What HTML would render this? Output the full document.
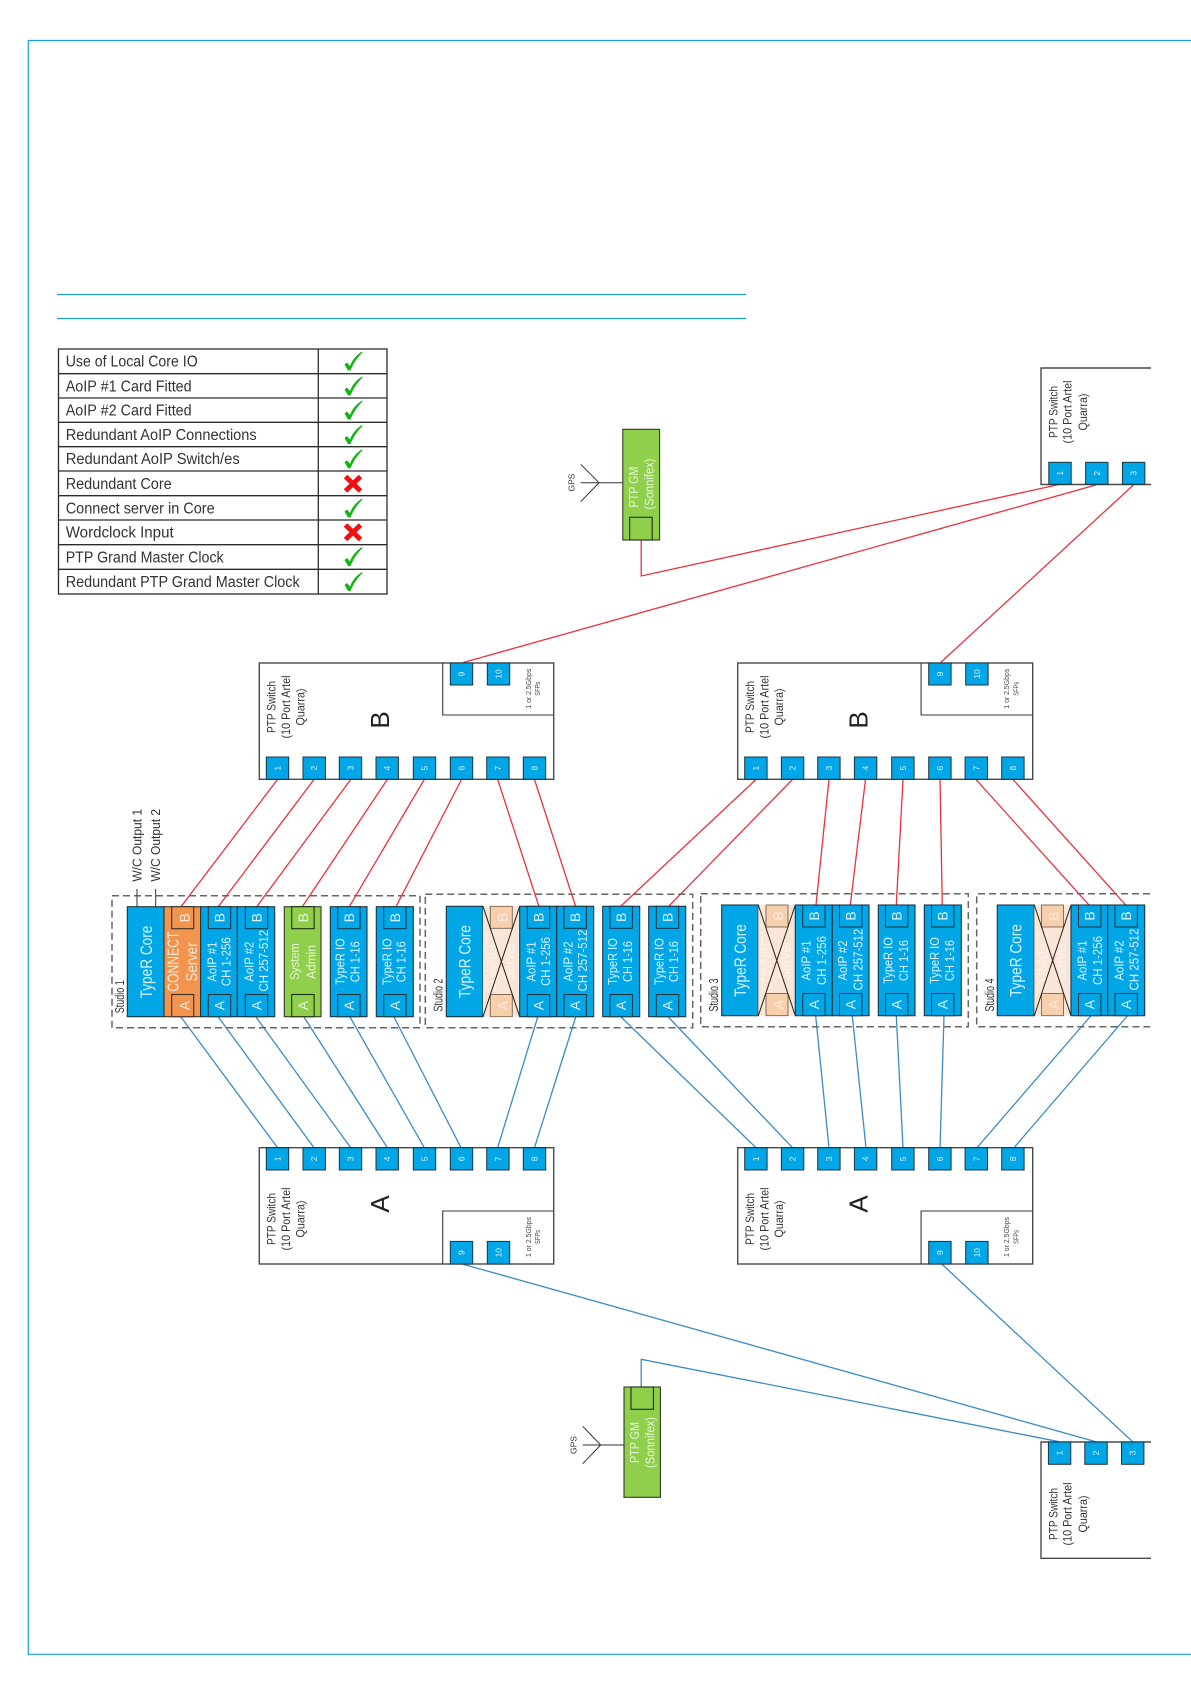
<!DOCTYPE html>
<html lang="en">
<head>
<meta charset="utf-8">
<title>PTP network diagram</title>
<style>
html,body{margin:0;padding:0;background:#fff;width:1191px;height:1684px;overflow:hidden}
svg{display:block;font-family:"Liberation Sans",sans-serif}
text{dominant-baseline:central;text-anchor:middle}
.fr{stroke:#1a9ed4;stroke-width:1.2;fill:none}
.r{stroke:#e9323e;stroke-width:1.3;fill:none}
.b{stroke:#3b8cc6;stroke-width:1.3;fill:none}
.sw{fill:#fff;stroke:#4a4a4a;stroke-width:1.4}
.in{fill:none;stroke:#3a3a3a;stroke-width:1.1}
.p{fill:#00a6e6;stroke:#1c3440;stroke-width:1}
.c{fill:#00a6e6;stroke:#1c3440;stroke-width:1.1}
.o{fill:#f0944e;stroke:#3a3026;stroke-width:1.1}
.g{fill:#8fcf4c;stroke:#2d3d1f;stroke-width:1.1}
.gp{fill:#8fcf4c;stroke:#1f2d14;stroke-width:1.1}
.f{fill:#f9e6d8;stroke:none}
.fp{fill:#f6cfad;stroke:#7a6350;stroke-width:.9}
.x{stroke:#2a1d14;stroke-width:1;fill:none}
.d{fill:none;stroke:#666;stroke-width:1.5;stroke-dasharray:7 4}
.w{fill:#d8f3fd}
.wg{fill:#e8f6d8}
.wo{fill:#fde8d6}
.fa{fill:#fff;opacity:.55}
.t{fill:#333}
.sf{fill:#444;font-size:7px}
.n{fill:#d8f3fd;font-size:8.5px}
.l{fill:#222;font-size:26px}
.pl{fill:#d8f3fd;font-size:14px}
.tb{fill:#333;font-size:15.5px;dominant-baseline:auto;text-anchor:start}
.tl{stroke:#2c2c2c;stroke-width:1.3;fill:none}
.ck{fill:#14b414}
.xx{stroke:#f01010;stroke-width:5;fill:none}
</style>
</head>
<body>
<svg width="1191" height="1684" viewBox="0 0 1191 1684" xmlns="http://www.w3.org/2000/svg">
<rect width="1191" height="1684" fill="#fff"/>
<path class="fr" d="M1191,40.5H28.3V1654.3H1191"/>
<path class="fr" d="M57,294.5H746M57,318.5H746"/>

<!-- table -->
<rect x="58.5" y="349" width="328.5" height="245" class="tl"/>
<path class="tl" d="M318.3,349V594M58.5,373.7H387M58.5,398H387M58.5,422.3H387M58.5,446.7H387M58.5,471H387M58.5,495.7H387M58.5,520H387M58.5,544.7H387M58.5,569.3H387"/>
<text class="tb" x="65.7" y="366.7" textLength="132" lengthAdjust="spacingAndGlyphs">Use of Local Core IO</text>
<text class="tb" x="65.7" y="391.3" textLength="126" lengthAdjust="spacingAndGlyphs">AoIP #1 Card Fitted</text>
<text class="tb" x="65.7" y="415.7" textLength="126" lengthAdjust="spacingAndGlyphs">AoIP #2 Card Fitted</text>
<text class="tb" x="65.7" y="440" textLength="191" lengthAdjust="spacingAndGlyphs">Redundant AoIP Connections</text>
<text class="tb" x="65.7" y="464" textLength="174" lengthAdjust="spacingAndGlyphs">Redundant AoIP Switch/es</text>
<text class="tb" x="65.7" y="489" textLength="106" lengthAdjust="spacingAndGlyphs">Redundant Core</text>
<text class="tb" x="65.7" y="513.3" textLength="149" lengthAdjust="spacingAndGlyphs">Connect server in Core</text>
<text class="tb" x="65.7" y="537.7" textLength="108" lengthAdjust="spacingAndGlyphs">Wordclock Input</text>
<text class="tb" x="65.7" y="562.3" textLength="158" lengthAdjust="spacingAndGlyphs">PTP Grand Master Clock</text>
<text class="tb" x="65.7" y="587" textLength="234" lengthAdjust="spacingAndGlyphs">Redundant PTP Grand Master Clock</text>
<path class="ck" transform="translate(353,361)" d="M-8.5,3.5L-6,1.5L-3,5C-1,-1 3,-5.5 9,-9.5L9.5,-8.5C4,-3 0,3 -2.5,9.5L-5,9.5Z"/>
<path class="ck" transform="translate(353,386)" d="M-8.5,3.5L-6,1.5L-3,5C-1,-1 3,-5.5 9,-9.5L9.5,-8.5C4,-3 0,3 -2.5,9.5L-5,9.5Z"/>
<path class="ck" transform="translate(353,410)" d="M-8.5,3.5L-6,1.5L-3,5C-1,-1 3,-5.5 9,-9.5L9.5,-8.5C4,-3 0,3 -2.5,9.5L-5,9.5Z"/>
<path class="ck" transform="translate(353,434.5)" d="M-8.5,3.5L-6,1.5L-3,5C-1,-1 3,-5.5 9,-9.5L9.5,-8.5C4,-3 0,3 -2.5,9.5L-5,9.5Z"/>
<path class="ck" transform="translate(353,458.7)" d="M-8.5,3.5L-6,1.5L-3,5C-1,-1 3,-5.5 9,-9.5L9.5,-8.5C4,-3 0,3 -2.5,9.5L-5,9.5Z"/>
<path class="ck" transform="translate(353,508)" d="M-8.5,3.5L-6,1.5L-3,5C-1,-1 3,-5.5 9,-9.5L9.5,-8.5C4,-3 0,3 -2.5,9.5L-5,9.5Z"/>
<path class="ck" transform="translate(353,556.5)" d="M-8.5,3.5L-6,1.5L-3,5C-1,-1 3,-5.5 9,-9.5L9.5,-8.5C4,-3 0,3 -2.5,9.5L-5,9.5Z"/>
<path class="ck" transform="translate(353,581.5)" d="M-8.5,3.5L-6,1.5L-3,5C-1,-1 3,-5.5 9,-9.5L9.5,-8.5C4,-3 0,3 -2.5,9.5L-5,9.5Z"/>
<path class="xx" d="M345.5,476.5L360.5,491M360.5,476.5L345.5,491"/>
<path class="xx" d="M345.5,525L360.5,539.5M360.5,525L345.5,539.5"/>

<!-- red connectors -->
<path class="r" d="M641.2,540V576L1059,484.5"/>
<path class="r" d="M463.3,662.5L1095.8,485M940.7,662.5L1133.4,485"/>
<path class="r" d="M277.5,779.5L181,906.7M314,779.5L218.3,906.7M350.7,779.5L256.7,906.7M387.3,779.5L302.3,906.7M424.3,779.5L349.3,906.7M461.5,779.5L396,906.7M497.7,779.5L539,906.7M534.5,779.5L575.7,906.7"/>
<path class="r" d="M756,779.5L621,906M792.5,779.5L669,906M829,779.5L816,905M865.5,779.5L850.3,905M903,779.5L896.3,905M940,779.5L942.3,905M976,779.5L1089,905M1013,779.5L1125.7,905"/>
<!-- blue connectors -->
<path class="b" d="M181,1017L277.5,1147.7M218.3,1017L314,1147.7M256,1017L350.7,1147.7M304,1017L387.3,1147.7M350,1017L424.3,1147.7M394,1017L461,1147.7M537.7,1017L497.7,1147.7M575.7,1017L534.5,1147.7"/>
<path class="b" d="M621,1017L756,1147.7M668.3,1017L792.5,1147.7M815.7,1016L829,1147.7M852.3,1016L866,1147.7M896.3,1016L903,1147.7M944,1016L940,1147.7M1090.7,1016L977,1147.7M1127.3,1016L1014,1147.7"/>
<path class="b" d="M462.3,1264L1095.8,1441.7M941.7,1264L1132.6,1441.7"/>
<path class="b" d="M641.2,1387V1359.3L1059,1441.7"/>

<!-- Switch B left -->
<g transform="translate(259.3,663)">
<rect class="sw" width="294.4" height="116.3"/>
<path class="in" d="M183.4,0V52H294.4"/>
<rect class="p" x="7" y="94" width="22.4" height="22.3"/><text class="n" transform="translate(18.2,105.2) rotate(-90)">1</text>
<rect class="p" x="43.7" y="94" width="22.4" height="22.3"/><text class="n" transform="translate(54.9,105.2) rotate(-90)">2</text>
<rect class="p" x="80" y="94" width="22.4" height="22.3"/><text class="n" transform="translate(91.2,105.2) rotate(-90)">3</text>
<rect class="p" x="116.7" y="94" width="22.4" height="22.3"/><text class="n" transform="translate(127.9,105.2) rotate(-90)">4</text>
<rect class="p" x="154" y="94" width="22.4" height="22.3"/><text class="n" transform="translate(165.2,105.2) rotate(-90)">5</text>
<rect class="p" x="191" y="94" width="22.4" height="22.3"/><text class="n" transform="translate(202.2,105.2) rotate(-90)">6</text>
<rect class="p" x="227.4" y="94" width="22.4" height="22.3"/><text class="n" transform="translate(238.6,105.2) rotate(-90)">7</text>
<rect class="p" x="264" y="94" width="22.4" height="22.3"/><text class="n" transform="translate(275.2,105.2) rotate(-90)">8</text>
<rect class="p" x="191" y="0" width="22.4" height="22"/><text class="n" transform="translate(202.2,11) rotate(-90)">9</text>
<rect class="p" x="228" y="0" width="22.4" height="22"/><text class="n" transform="translate(239.2,11) rotate(-90)">10</text>
<text class="t" font-size="12" transform="translate(12.4,44) rotate(-90)" textLength="52" lengthAdjust="spacingAndGlyphs">PTP Switch</text>
<text class="t" font-size="12" transform="translate(26.7,44) rotate(-90)" textLength="63" lengthAdjust="spacingAndGlyphs">(10 Port Artel</text>
<text class="t" font-size="12" transform="translate(41.4,44) rotate(-90)" textLength="37" lengthAdjust="spacingAndGlyphs">Quarra)</text>
<text class="l" transform="translate(120.7,57) rotate(-90)">B</text>
<text class="sf" transform="translate(270,25.7) rotate(-90)" textLength="40" lengthAdjust="spacingAndGlyphs">1 or 2.5Gbps</text>
<text class="sf" transform="translate(279.4,25.7) rotate(-90)" textLength="14" lengthAdjust="spacingAndGlyphs">SFPs</text>
</g>
<!-- Switch B right -->
<g transform="translate(737.7,663)">
<rect class="sw" width="295" height="116.3"/>
<path class="in" d="M183.4,0V52H295"/>
<rect class="p" x="7" y="94" width="22.4" height="22.3"/><text class="n" transform="translate(18.2,105.2) rotate(-90)">1</text>
<rect class="p" x="43.7" y="94" width="22.4" height="22.3"/><text class="n" transform="translate(54.9,105.2) rotate(-90)">2</text>
<rect class="p" x="80" y="94" width="22.4" height="22.3"/><text class="n" transform="translate(91.2,105.2) rotate(-90)">3</text>
<rect class="p" x="116.7" y="94" width="22.4" height="22.3"/><text class="n" transform="translate(127.9,105.2) rotate(-90)">4</text>
<rect class="p" x="154" y="94" width="22.4" height="22.3"/><text class="n" transform="translate(165.2,105.2) rotate(-90)">5</text>
<rect class="p" x="191" y="94" width="22.4" height="22.3"/><text class="n" transform="translate(202.2,105.2) rotate(-90)">6</text>
<rect class="p" x="227.4" y="94" width="22.4" height="22.3"/><text class="n" transform="translate(238.6,105.2) rotate(-90)">7</text>
<rect class="p" x="264" y="94" width="22.4" height="22.3"/><text class="n" transform="translate(275.2,105.2) rotate(-90)">8</text>
<rect class="p" x="191" y="0" width="22.4" height="22"/><text class="n" transform="translate(202.2,11) rotate(-90)">9</text>
<rect class="p" x="228" y="0" width="22.4" height="22"/><text class="n" transform="translate(239.2,11) rotate(-90)">10</text>
<text class="t" font-size="12" transform="translate(12.4,44) rotate(-90)" textLength="52" lengthAdjust="spacingAndGlyphs">PTP Switch</text>
<text class="t" font-size="12" transform="translate(26.7,44) rotate(-90)" textLength="63" lengthAdjust="spacingAndGlyphs">(10 Port Artel</text>
<text class="t" font-size="12" transform="translate(41.4,44) rotate(-90)" textLength="37" lengthAdjust="spacingAndGlyphs">Quarra)</text>
<text class="l" transform="translate(120.7,57) rotate(-90)">B</text>
<text class="sf" transform="translate(270,25.7) rotate(-90)" textLength="40" lengthAdjust="spacingAndGlyphs">1 or 2.5Gbps</text>
<text class="sf" transform="translate(279.4,25.7) rotate(-90)" textLength="14" lengthAdjust="spacingAndGlyphs">SFPs</text>
</g>
<!-- Switch A left -->
<g transform="translate(259.3,1147.7)">
<rect class="sw" width="294.4" height="116.3"/>
<path class="in" d="M183.4,116.3V63.3H294.4"/>
<rect class="p" x="7" y="0" width="22.4" height="22.3"/><text class="n" transform="translate(18.2,11.2) rotate(-90)">1</text>
<rect class="p" x="43.7" y="0" width="22.4" height="22.3"/><text class="n" transform="translate(54.9,11.2) rotate(-90)">2</text>
<rect class="p" x="80" y="0" width="22.4" height="22.3"/><text class="n" transform="translate(91.2,11.2) rotate(-90)">3</text>
<rect class="p" x="116.7" y="0" width="22.4" height="22.3"/><text class="n" transform="translate(127.9,11.2) rotate(-90)">4</text>
<rect class="p" x="154" y="0" width="22.4" height="22.3"/><text class="n" transform="translate(165.2,11.2) rotate(-90)">5</text>
<rect class="p" x="191" y="0" width="22.4" height="22.3"/><text class="n" transform="translate(202.2,11.2) rotate(-90)">6</text>
<rect class="p" x="227.4" y="0" width="22.4" height="22.3"/><text class="n" transform="translate(238.6,11.2) rotate(-90)">7</text>
<rect class="p" x="264" y="0" width="22.4" height="22.3"/><text class="n" transform="translate(275.2,11.2) rotate(-90)">8</text>
<rect class="p" x="191" y="93.7" width="22.4" height="22.6"/><text class="n" transform="translate(202.2,105) rotate(-90)">9</text>
<rect class="p" x="228" y="93.7" width="22.4" height="22.6"/><text class="n" transform="translate(239.2,105) rotate(-90)">10</text>
<text class="t" font-size="12" transform="translate(12.4,71.3) rotate(-90)" textLength="52" lengthAdjust="spacingAndGlyphs">PTP Switch</text>
<text class="t" font-size="12" transform="translate(26.7,71.3) rotate(-90)" textLength="63" lengthAdjust="spacingAndGlyphs">(10 Port Artel</text>
<text class="t" font-size="12" transform="translate(41.4,71.3) rotate(-90)" textLength="37" lengthAdjust="spacingAndGlyphs">Quarra)</text>
<text class="l" transform="translate(120.7,56.3) rotate(-90)">A</text>
<text class="sf" transform="translate(270,89.3) rotate(-90)" textLength="40" lengthAdjust="spacingAndGlyphs">1 or 2.5Gbps</text>
<text class="sf" transform="translate(279.4,89.3) rotate(-90)" textLength="14" lengthAdjust="spacingAndGlyphs">SFPs</text>
</g>
<!-- Switch A right -->
<g transform="translate(737.7,1147.7)">
<rect class="sw" width="295" height="116.3"/>
<path class="in" d="M183.4,116.3V63.3H295"/>
<rect class="p" x="7" y="0" width="22.4" height="22.3"/><text class="n" transform="translate(18.2,11.2) rotate(-90)">1</text>
<rect class="p" x="43.7" y="0" width="22.4" height="22.3"/><text class="n" transform="translate(54.9,11.2) rotate(-90)">2</text>
<rect class="p" x="80" y="0" width="22.4" height="22.3"/><text class="n" transform="translate(91.2,11.2) rotate(-90)">3</text>
<rect class="p" x="116.7" y="0" width="22.4" height="22.3"/><text class="n" transform="translate(127.9,11.2) rotate(-90)">4</text>
<rect class="p" x="154" y="0" width="22.4" height="22.3"/><text class="n" transform="translate(165.2,11.2) rotate(-90)">5</text>
<rect class="p" x="191" y="0" width="22.4" height="22.3"/><text class="n" transform="translate(202.2,11.2) rotate(-90)">6</text>
<rect class="p" x="227.4" y="0" width="22.4" height="22.3"/><text class="n" transform="translate(238.6,11.2) rotate(-90)">7</text>
<rect class="p" x="264" y="0" width="22.4" height="22.3"/><text class="n" transform="translate(275.2,11.2) rotate(-90)">8</text>
<rect class="p" x="191" y="93.7" width="22.4" height="22.6"/><text class="n" transform="translate(202.2,105) rotate(-90)">9</text>
<rect class="p" x="228" y="93.7" width="22.4" height="22.6"/><text class="n" transform="translate(239.2,105) rotate(-90)">10</text>
<text class="t" font-size="12" transform="translate(12.4,71.3) rotate(-90)" textLength="52" lengthAdjust="spacingAndGlyphs">PTP Switch</text>
<text class="t" font-size="12" transform="translate(26.7,71.3) rotate(-90)" textLength="63" lengthAdjust="spacingAndGlyphs">(10 Port Artel</text>
<text class="t" font-size="12" transform="translate(41.4,71.3) rotate(-90)" textLength="37" lengthAdjust="spacingAndGlyphs">Quarra)</text>
<text class="l" transform="translate(120.7,56.3) rotate(-90)">A</text>
<text class="sf" transform="translate(270,89.3) rotate(-90)" textLength="40" lengthAdjust="spacingAndGlyphs">1 or 2.5Gbps</text>
<text class="sf" transform="translate(279.4,89.3) rotate(-90)" textLength="14" lengthAdjust="spacingAndGlyphs">SFPs</text>
</g>

<!-- Top switch (cropped) -->
<path class="sw" fill="#fff" d="M1151,368H1041V484.5H1151"/>
<rect class="p" x="1048.8" y="462.3" width="22.4" height="22"/><text class="n" transform="translate(1060,473.3) rotate(-90)">1</text>
<rect class="p" x="1085.6" y="462.3" width="22.4" height="22"/><text class="n" transform="translate(1096.8,473.3) rotate(-90)">2</text>
<rect class="p" x="1122.4" y="462.3" width="22.4" height="22"/><text class="n" transform="translate(1133.6,473.3) rotate(-90)">3</text>
<text class="t" font-size="12" transform="translate(1053.7,412) rotate(-90)" textLength="52" lengthAdjust="spacingAndGlyphs">PTP Switch</text>
<text class="t" font-size="12" transform="translate(1067.6,412) rotate(-90)" textLength="63" lengthAdjust="spacingAndGlyphs">(10 Port Artel</text>
<text class="t" font-size="12" transform="translate(1083,412) rotate(-90)" textLength="37" lengthAdjust="spacingAndGlyphs">Quarra)</text>

<!-- Bottom switch (cropped) -->
<path class="sw" fill="#fff" d="M1151,1442H1041V1558.3H1151"/>
<rect class="p" x="1048.4" y="1442" width="22.4" height="22.3"/><text class="n" transform="translate(1059.6,1453) rotate(-90)">1</text>
<rect class="p" x="1084.8" y="1442" width="22.4" height="22.3"/><text class="n" transform="translate(1096,1453) rotate(-90)">2</text>
<rect class="p" x="1121.5" y="1442" width="22.4" height="22.3"/><text class="n" transform="translate(1132.7,1453) rotate(-90)">3</text>
<text class="t" font-size="12" transform="translate(1053.7,1514) rotate(-90)" textLength="52" lengthAdjust="spacingAndGlyphs">PTP Switch</text>
<text class="t" font-size="12" transform="translate(1067.6,1514) rotate(-90)" textLength="63" lengthAdjust="spacingAndGlyphs">(10 Port Artel</text>
<text class="t" font-size="12" transform="translate(1083,1514) rotate(-90)" textLength="37" lengthAdjust="spacingAndGlyphs">Quarra)</text>

<!-- PTP GM top -->
<path d="M580.7,482.7H622.8M580.7,464.3L599,482.7L580.7,501.7" fill="none" stroke="#333" stroke-width="1"/>
<text fill="#333" font-size="8.5" transform="translate(571.7,482.5) rotate(-90)">GPS</text>
<rect class="g" x="622.8" y="429.3" width="36.8" height="110.7"/>
<rect class="gp" x="629.7" y="517.3" width="22.5" height="22.7"/>
<text class="wg" font-size="13" transform="translate(633.5,487) rotate(-90)" textLength="41" lengthAdjust="spacingAndGlyphs">PTP GM</text>
<text class="wg" font-size="13" transform="translate(649,484) rotate(-90)" textLength="51" lengthAdjust="spacingAndGlyphs">(Sonnifex)</text>

<!-- PTP GM bottom -->
<path d="M582.7,1445H624M582.7,1426.3L600.7,1445L582.7,1463.7" fill="none" stroke="#333" stroke-width="1"/>
<text fill="#333" font-size="8.5" transform="translate(573.7,1445) rotate(-90)">GPS</text>
<rect class="g" x="624" y="1387" width="36.4" height="110.3"/>
<rect class="gp" x="631" y="1387" width="22.4" height="22.3"/>
<text class="wg" font-size="13" transform="translate(634.5,1442.5) rotate(-90)" textLength="41" lengthAdjust="spacingAndGlyphs">PTP GM</text>
<text class="wg" font-size="13" transform="translate(650,1442.5) rotate(-90)" textLength="51" lengthAdjust="spacingAndGlyphs">(Sonnifex)</text>

<!-- Studio 1 -->
<rect class="d" x="112" y="895.7" width="308" height="132"/>
<path d="M137,889V906.5M155.7,889V906.5" stroke="#333" stroke-width="1" fill="none"/>
<text class="t" font-size="12.5" transform="translate(137.3,845.3) rotate(-90)" textLength="72.7" lengthAdjust="spacingAndGlyphs">W/C Output 1</text>
<text class="t" font-size="12.5" transform="translate(156,845.3) rotate(-90)" textLength="72.7" lengthAdjust="spacingAndGlyphs">W/C Output 2</text>
<text class="t" font-size="12.5" transform="translate(120,996.7) rotate(-90)" textLength="33" lengthAdjust="spacingAndGlyphs">Studio 1</text>
<rect class="c" x="127.3" y="906.7" width="36.7" height="110"/>
<text class="w" font-size="17" transform="translate(146.7,962) rotate(-90)" textLength="72.7" lengthAdjust="spacingAndGlyphs">TypeR Core</text>
<rect class="o" x="164" y="906.7" width="36.7" height="110"/>
<rect class="o" x="171.7" y="906.7" width="22" height="22"/><text class="wo" font-size="14" transform="translate(184.3,917.7) rotate(-90)">B</text>
<rect class="o" x="171.7" y="994.5" width="22" height="22.2"/><text class="wo" font-size="14" transform="translate(184.3,1005.6) rotate(-90)">A</text>
<text class="wo" font-size="15.5" transform="translate(173.8,961.7) rotate(-90)" textLength="60" lengthAdjust="spacingAndGlyphs">CONNECT</text>
<text class="wo" font-size="15.5" transform="translate(192.3,962) rotate(-90)" textLength="39" lengthAdjust="spacingAndGlyphs">Server</text>
<rect class="c" x="200.7" y="906.7" width="36.6" height="110"/>
<rect class="p" x="208.3" y="906.7" width="22.4" height="22"/><text class="pl" transform="translate(219.5,917.7) rotate(-90)">B</text>
<rect class="p" x="208.3" y="994.5" width="22.4" height="22.2"/><text class="pl" transform="translate(219.5,1005.6) rotate(-90)">A</text>
<text class="w" font-size="12.5" transform="translate(212.7,961.7) rotate(-90)" textLength="40" lengthAdjust="spacingAndGlyphs">AoIP #1</text>
<text class="w" font-size="12.5" transform="translate(226.7,961.7) rotate(-90)" textLength="49" lengthAdjust="spacingAndGlyphs">CH 1-256</text>
<rect class="c" x="237.3" y="906.7" width="37.4" height="110"/>
<rect class="p" x="245.3" y="906.7" width="22.4" height="22"/><text class="pl" transform="translate(256.5,917.7) rotate(-90)">B</text>
<rect class="p" x="245.3" y="994.5" width="22.4" height="22.2"/><text class="pl" transform="translate(256.5,1005.6) rotate(-90)">A</text>
<text class="w" font-size="12.5" transform="translate(249.3,961.7) rotate(-90)" textLength="40" lengthAdjust="spacingAndGlyphs">AoIP #2</text>
<text class="w" font-size="12.5" transform="translate(264,960.7) rotate(-90)" textLength="61.7" lengthAdjust="spacingAndGlyphs">CH 257-512</text>
<rect class="g" x="284.3" y="906.7" width="36.7" height="110"/>
<rect class="gp" x="291.7" y="906.7" width="22.4" height="22"/><text class="wg" font-size="14" transform="translate(302.9,917.7) rotate(-90)">B</text>
<rect class="gp" x="291.7" y="994.5" width="22.4" height="22.2"/><text class="wg" font-size="14" transform="translate(302.9,1005.6) rotate(-90)">A</text>
<text class="wg" font-size="12.5" transform="translate(295,961.7) rotate(-90)" textLength="36.7" lengthAdjust="spacingAndGlyphs">System</text>
<text class="wg" font-size="12.5" transform="translate(311.7,962) rotate(-90)" textLength="34" lengthAdjust="spacingAndGlyphs">Admin</text>
<rect class="c" x="330.3" y="906.7" width="36.7" height="110"/>
<rect class="p" x="337.7" y="906.7" width="22.4" height="22"/><text class="pl" transform="translate(348.9,917.7) rotate(-90)">B</text>
<rect class="p" x="337.7" y="994.5" width="22.4" height="22.2"/><text class="pl" transform="translate(348.9,1005.6) rotate(-90)">A</text>
<text class="w" font-size="12.5" transform="translate(340.7,961.7) rotate(-90)" textLength="46.7" lengthAdjust="spacingAndGlyphs">TypeR IO</text>
<text class="w" font-size="12.5" transform="translate(355.7,961.7) rotate(-90)" textLength="41" lengthAdjust="spacingAndGlyphs">CH 1-16</text>
<rect class="c" x="376.3" y="906.7" width="37" height="110"/>
<rect class="p" x="383.7" y="906.7" width="22.4" height="22"/><text class="pl" transform="translate(394.9,917.7) rotate(-90)">B</text>
<rect class="p" x="383.7" y="994.5" width="22.4" height="22.2"/><text class="pl" transform="translate(394.9,1005.6) rotate(-90)">A</text>
<text class="w" font-size="12.5" transform="translate(387.3,961.7) rotate(-90)" textLength="46.7" lengthAdjust="spacingAndGlyphs">TypeR IO</text>
<text class="w" font-size="12.5" transform="translate(401.7,961.7) rotate(-90)" textLength="41" lengthAdjust="spacingAndGlyphs">CH 1-16</text>

<!-- Studio 2 -->
<rect class="d" x="425.3" y="894.3" width="267.4" height="133.4"/>
<text class="t" font-size="12.5" transform="translate(438.3,995) rotate(-90)" textLength="33" lengthAdjust="spacingAndGlyphs">Studio 2</text>
<rect class="c" x="446.3" y="906.3" width="36.7" height="110.4"/>
<text class="w" font-size="17" transform="translate(465,961.5) rotate(-90)" textLength="72.7" lengthAdjust="spacingAndGlyphs">TypeR Core</text>
<rect class="f" x="483" y="906.3" width="36.7" height="110.4"/>
<rect class="fp" x="490.3" y="906.3" width="22" height="22"/><text class="fa" font-size="14" transform="translate(502.5,917.3) rotate(-90)">B</text>
<rect class="fp" x="490.3" y="994.5" width="22" height="22.2"/><text class="fa" font-size="14" transform="translate(502.5,1005.6) rotate(-90)">A</text>
<text class="fa" font-size="15.5" transform="translate(492,961.5) rotate(-90)" textLength="60" lengthAdjust="spacingAndGlyphs">CONNECT</text>
<text class="fa" font-size="15.5" transform="translate(510,961.5) rotate(-90)" textLength="39" lengthAdjust="spacingAndGlyphs">Server</text>
<path class="x" d="M483,906.3L519.7,1016.7M519.7,906.3L483,1016.7"/>
<rect class="c" x="519.7" y="906.3" width="37" height="110.4"/>
<rect class="p" x="527.3" y="906.3" width="22.4" height="22"/><text class="pl" transform="translate(538.5,917.3) rotate(-90)">B</text>
<rect class="p" x="527.3" y="994.5" width="22.4" height="22.2"/><text class="pl" transform="translate(538.5,1005.6) rotate(-90)">A</text>
<text class="w" font-size="12.5" transform="translate(531.5,961.5) rotate(-90)" textLength="40" lengthAdjust="spacingAndGlyphs">AoIP #1</text>
<text class="w" font-size="12.5" transform="translate(546,961.5) rotate(-90)" textLength="49" lengthAdjust="spacingAndGlyphs">CH 1-256</text>
<rect class="c" x="556.7" y="906.3" width="37" height="110.4"/>
<rect class="p" x="564" y="906.3" width="22.4" height="22"/><text class="pl" transform="translate(575.2,917.3) rotate(-90)">B</text>
<rect class="p" x="564" y="994.5" width="22.4" height="22.2"/><text class="pl" transform="translate(575.2,1005.6) rotate(-90)">A</text>
<text class="w" font-size="12.5" transform="translate(568.5,961.5) rotate(-90)" textLength="40" lengthAdjust="spacingAndGlyphs">AoIP #2</text>
<text class="w" font-size="12.5" transform="translate(583,960.5) rotate(-90)" textLength="61.7" lengthAdjust="spacingAndGlyphs">CH 257-512</text>
<rect class="c" x="602.7" y="906.3" width="37" height="110.4"/>
<rect class="p" x="610" y="906.3" width="22.4" height="22"/><text class="pl" transform="translate(621.2,917.3) rotate(-90)">B</text>
<rect class="p" x="610" y="994.5" width="22.4" height="22.2"/><text class="pl" transform="translate(621.2,1005.6) rotate(-90)">A</text>
<text class="w" font-size="12.5" transform="translate(613,961.5) rotate(-90)" textLength="46.7" lengthAdjust="spacingAndGlyphs">TypeR IO</text>
<text class="w" font-size="12.5" transform="translate(628,961.5) rotate(-90)" textLength="41" lengthAdjust="spacingAndGlyphs">CH 1-16</text>
<rect class="c" x="648.7" y="906.3" width="37" height="110.4"/>
<rect class="p" x="656.3" y="906.3" width="22.4" height="22"/><text class="pl" transform="translate(667.5,917.3) rotate(-90)">B</text>
<rect class="p" x="656.3" y="994.5" width="22.4" height="22.2"/><text class="pl" transform="translate(667.5,1005.6) rotate(-90)">A</text>
<text class="w" font-size="12.5" transform="translate(659.5,961.5) rotate(-90)" textLength="46.7" lengthAdjust="spacingAndGlyphs">TypeR IO</text>
<text class="w" font-size="12.5" transform="translate(674,961.5) rotate(-90)" textLength="41" lengthAdjust="spacingAndGlyphs">CH 1-16</text>

<!-- Studio 3 -->
<rect class="d" x="700.7" y="893.7" width="267.6" height="133"/>
<text class="t" font-size="12.5" transform="translate(714,995) rotate(-90)" textLength="33" lengthAdjust="spacingAndGlyphs">Studio 3</text>
<rect class="c" x="721.7" y="905" width="36.6" height="110.7"/>
<text class="w" font-size="17" transform="translate(740.5,960.5) rotate(-90)" textLength="72.7" lengthAdjust="spacingAndGlyphs">TypeR Core</text>
<rect class="f" x="758.3" y="905" width="37" height="110.7"/>
<rect class="fp" x="766" y="905" width="22" height="22"/><text class="fa" font-size="14" transform="translate(778,916) rotate(-90)">B</text>
<rect class="fp" x="766" y="993.5" width="22" height="22.2"/><text class="fa" font-size="14" transform="translate(778,1004.6) rotate(-90)">A</text>
<text class="fa" font-size="15.5" transform="translate(767.5,960.5) rotate(-90)" textLength="60" lengthAdjust="spacingAndGlyphs">CONNECT</text>
<text class="fa" font-size="15.5" transform="translate(786,960.5) rotate(-90)" textLength="39" lengthAdjust="spacingAndGlyphs">Server</text>
<path class="x" d="M758.3,905L795.3,1015.7M795.3,905L758.3,1015.7"/>
<rect class="c" x="795.3" y="905" width="37" height="110.7"/>
<rect class="p" x="802.7" y="905" width="22.4" height="22"/><text class="pl" transform="translate(813.9,916) rotate(-90)">B</text>
<rect class="p" x="802.7" y="993.5" width="22.4" height="22.2"/><text class="pl" transform="translate(813.9,1004.6) rotate(-90)">A</text>
<text class="w" font-size="12.5" transform="translate(806.5,960.5) rotate(-90)" textLength="40" lengthAdjust="spacingAndGlyphs">AoIP #1</text>
<text class="w" font-size="12.5" transform="translate(822,960.5) rotate(-90)" textLength="49" lengthAdjust="spacingAndGlyphs">CH 1-256</text>
<rect class="c" x="832.3" y="905" width="36.7" height="110.7"/>
<rect class="p" x="839.5" y="905" width="22.4" height="22"/><text class="pl" transform="translate(850.7,916) rotate(-90)">B</text>
<rect class="p" x="839.5" y="993.5" width="22.4" height="22.2"/><text class="pl" transform="translate(850.7,1004.6) rotate(-90)">A</text>
<text class="w" font-size="12.5" transform="translate(843,960.5) rotate(-90)" textLength="40" lengthAdjust="spacingAndGlyphs">AoIP #2</text>
<text class="w" font-size="12.5" transform="translate(858.5,959.5) rotate(-90)" textLength="61.7" lengthAdjust="spacingAndGlyphs">CH 257-512</text>
<rect class="c" x="878.3" y="905" width="36.7" height="110.7"/>
<rect class="p" x="885.5" y="905" width="22.4" height="22"/><text class="pl" transform="translate(896.7,916) rotate(-90)">B</text>
<rect class="p" x="885.5" y="993.5" width="22.4" height="22.2"/><text class="pl" transform="translate(896.7,1004.6) rotate(-90)">A</text>
<text class="w" font-size="12.5" transform="translate(888.5,960.5) rotate(-90)" textLength="46.7" lengthAdjust="spacingAndGlyphs">TypeR IO</text>
<text class="w" font-size="12.5" transform="translate(904,960.5) rotate(-90)" textLength="41" lengthAdjust="spacingAndGlyphs">CH 1-16</text>
<rect class="c" x="924.3" y="905" width="37" height="110.7"/>
<rect class="p" x="931.5" y="905" width="22.4" height="22"/><text class="pl" transform="translate(942.7,916) rotate(-90)">B</text>
<rect class="p" x="931.5" y="993.5" width="22.4" height="22.2"/><text class="pl" transform="translate(942.7,1004.6) rotate(-90)">A</text>
<text class="w" font-size="12.5" transform="translate(935,960.5) rotate(-90)" textLength="46.7" lengthAdjust="spacingAndGlyphs">TypeR IO</text>
<text class="w" font-size="12.5" transform="translate(950,960.5) rotate(-90)" textLength="41" lengthAdjust="spacingAndGlyphs">CH 1-16</text>

<!-- Studio 4 -->
<path class="d" d="M1150,893.7H976.7V1026.7H1150"/>
<text class="t" font-size="12.5" transform="translate(990,995) rotate(-90)" textLength="33" lengthAdjust="spacingAndGlyphs">Studio 4</text>
<rect class="c" x="997.3" y="905" width="37" height="110.7"/>
<text class="w" font-size="17" transform="translate(1016,960.5) rotate(-90)" textLength="72.7" lengthAdjust="spacingAndGlyphs">TypeR Core</text>
<rect class="f" x="1034.3" y="905" width="36.7" height="110.7"/>
<rect class="fp" x="1041.5" y="905" width="22" height="22"/><text class="fa" font-size="14" transform="translate(1053.5,916) rotate(-90)">B</text>
<rect class="fp" x="1041.5" y="993.5" width="22" height="22.2"/><text class="fa" font-size="14" transform="translate(1053.5,1004.6) rotate(-90)">A</text>
<text class="fa" font-size="15.5" transform="translate(1043,960.5) rotate(-90)" textLength="60" lengthAdjust="spacingAndGlyphs">CONNECT</text>
<text class="fa" font-size="15.5" transform="translate(1061.5,960.5) rotate(-90)" textLength="39" lengthAdjust="spacingAndGlyphs">Server</text>
<path class="x" d="M1034.3,905L1071,1015.7M1071,905L1034.3,1015.7"/>
<rect class="c" x="1071" y="905" width="36.7" height="110.7"/>
<rect class="p" x="1078.5" y="905" width="22.4" height="22"/><text class="pl" transform="translate(1089.7,916) rotate(-90)">B</text>
<rect class="p" x="1078.5" y="993.5" width="22.4" height="22.2"/><text class="pl" transform="translate(1089.7,1004.6) rotate(-90)">A</text>
<text class="w" font-size="12.5" transform="translate(1082.5,960.5) rotate(-90)" textLength="40" lengthAdjust="spacingAndGlyphs">AoIP #1</text>
<text class="w" font-size="12.5" transform="translate(1098,960.5) rotate(-90)" textLength="49" lengthAdjust="spacingAndGlyphs">CH 1-256</text>
<rect class="c" x="1107.7" y="905" width="37" height="110.7"/>
<rect class="p" x="1115" y="905" width="22.4" height="22"/><text class="pl" transform="translate(1126.2,916) rotate(-90)">B</text>
<rect class="p" x="1115" y="993.5" width="22.4" height="22.2"/><text class="pl" transform="translate(1126.2,1004.6) rotate(-90)">A</text>
<text class="w" font-size="12.5" transform="translate(1119.5,960.5) rotate(-90)" textLength="40" lengthAdjust="spacingAndGlyphs">AoIP #2</text>
<text class="w" font-size="12.5" transform="translate(1134.5,959.5) rotate(-90)" textLength="61.7" lengthAdjust="spacingAndGlyphs">CH 257-512</text>
</svg>
</body>
</html>
